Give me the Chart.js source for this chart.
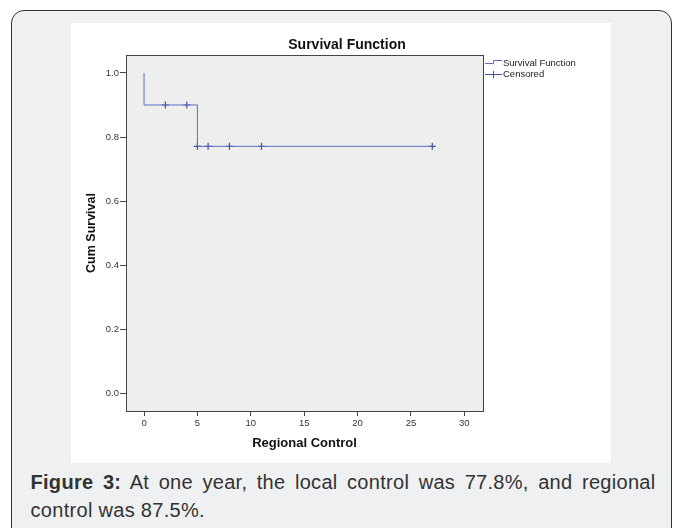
<!DOCTYPE html>
<html>
<head>
<meta charset="utf-8">
<script src="https://cdn.jsdelivr.net/npm/chart.js@4/dist/chart.umd.min.js"></script>
<style>
  body { margin: 0; background: #fff; font-family: "Liberation Sans", Arial, sans-serif; }
  .card {
    position: absolute; left: 11px; top: 10px; width: 659px; height: 560px;
    border: 1.5px solid #333; border-radius: 13px; background: #eff0f2;
  }
  .figure {
    position: absolute; left: 58.5px; top: 11.5px; width: 540px; height: 440px; background: #fff;
  }
  .caption {
    position: absolute; left: 18.5px; top: 456.5px; width: 625px;
    font-size: 20px; line-height: 28px; color: #333; text-align: justify; letter-spacing: 0.3px;
  }
</style>
</head>
<body>
<div class="card">
  <div class="figure"><canvas id="myChart" width="540" height="440"></canvas></div>
  <div class="caption"><b>Figure 3:</b> At one year, the local control was 77.8%, and regional control was 87.5%.</div>
</div>
<script>
// 생존 곡선 (계단형)
const stepTimes = [0, 0, 5, 27];
const stepSurvival = [1.0, 0.9, 0.771, 0.771];

// 중도절단 표시
const censorTimes = [2, 4, 5, 6, 8, 11, 27];
const censorSurvival = [0.9, 0.9, 0.771, 0.771, 0.771, 0.771, 0.771];

const yTicks = [0.0, 0.2, 0.4, 0.6, 0.8, 1.0];
const xTicks = [0, 5, 10, 15, 20, 25, 30];
const legendLabels = ["Survival Function", "Censored"];

const lineColor = "#5b6fc0";
const censorColor = "#3d4f9f";
const fontFamily = "'Liberation Sans', Arial, sans-serif";

// 배경, 테두리, 제목, 범례 그리기
const framePlugin = {
    id: "frame",
    beforeDatasetsDraw(chart) {
        const a = chart.chartArea, ctx = chart.ctx;
        ctx.save();
        ctx.fillStyle = "#eeeeee";
        ctx.fillRect(a.left, a.top, a.right - a.left, a.bottom - a.top);
        ctx.restore();
    },
    afterDraw(chart) {
        const a = chart.chartArea, ctx = chart.ctx;
        ctx.save();
        ctx.strokeStyle = "#444";
        ctx.lineWidth = 1;
        ctx.strokeRect(Math.round(a.left) + 0.5, Math.round(a.top) + 0.5,
            Math.round(a.right - a.left), Math.round(a.bottom - a.top));

        ctx.fillStyle = "#111";
        ctx.font = "bold 14px " + fontFamily;
        ctx.textAlign = "center";
        ctx.textBaseline = "middle";
        ctx.fillText("Survival Function", chart.width / 2 + 6, 22);

        // 범례
        const lx = a.right + 2;
        ctx.lineWidth = 1;
        ctx.strokeStyle = lineColor;
        ctx.beginPath();
        ctx.moveTo(lx, 40.5); ctx.lineTo(lx + 8.5, 40.5); ctx.lineTo(lx + 8.5, 37.5); ctx.lineTo(lx + 17, 37.5);
        ctx.stroke();
        ctx.strokeStyle = censorColor;
        ctx.beginPath();
        ctx.moveTo(lx, 51.5); ctx.lineTo(lx + 17, 51.5);
        ctx.moveTo(lx + 8.5, 48); ctx.lineTo(lx + 8.5, 55);
        ctx.stroke();
        ctx.fillStyle = "#222";
        ctx.font = "9.5px " + fontFamily;
        ctx.textAlign = "left";
        ctx.fillText(legendLabels[0], lx + 18, 40);
        ctx.fillText(legendLabels[1], lx + 18, 51);
        ctx.restore();
    }
};

let chart;

function initChart() {
    const ctx = document.getElementById("myChart").getContext("2d");
    chart = new Chart(ctx, {
        type: "scatter",
        data: {
            datasets: [
                {
                    label: legendLabels[0],
                    type: "line",
                    data: stepTimes.map((t, i) => ({ x: t, y: stepSurvival[i] })),
                    stepped: "before",
                    borderColor: lineColor,
                    borderWidth: 1,
                    pointRadius: 0,
                    fill: false,
                },
                {
                    label: legendLabels[1],
                    data: censorTimes.map((t, i) => ({ x: t, y: censorSurvival[i] })),
                    pointStyle: "cross",
                    pointRadius: 3.5,
                    borderColor: censorColor,
                    borderWidth: 1.2,
                    backgroundColor: censorColor,
                },
            ],
        },
        options: {
            responsive: false,
            animation: false,
            layout: { padding: { left: 13.5, top: 32, right: 128, bottom: 11.7 } },
            plugins: { legend: { display: false }, tooltip: { enabled: false } },
            scales: {
                x: {
                    type: "linear",
                    min: -1.69,
                    max: 31.75,
                    afterFit(s) { s.height = 40.3; },
                    afterBuildTicks(s) { s.ticks = xTicks.map(v => ({ value: v })); },
                    grid: { drawOnChartArea: false, tickLength: 5, color: "#444" },
                    border: { display: false },
                    ticks: { font: { size: 9.5, family: fontFamily }, color: "#333", padding: 2, maxRotation: 0 },
                    title: { display: true, text: "Regional Control", font: { size: 13, weight: "bold", family: fontFamily }, color: "#111", padding: 0 },
                },
                y: {
                    min: -0.055,
                    max: 1.056,
                    afterFit(s) { s.width = 41.5; },
                    afterBuildTicks(s) { s.ticks = yTicks.map(v => ({ value: v })); },
                    grid: { drawOnChartArea: false, tickLength: 6, color: "#444" },
                    border: { display: false },
                    ticks: { font: { size: 9.5, family: fontFamily }, color: "#333", padding: 1,
                        callback: v => v.toFixed(1) },
                    title: { display: true, text: "Cum Survival", font: { size: 12.5, weight: "bold", family: fontFamily }, color: "#111", padding: 0 },
                },
            },
        },
        plugins: [framePlugin],
    });
}

window.onload = function () {
    initChart();
};
</script>
</body>
</html>
